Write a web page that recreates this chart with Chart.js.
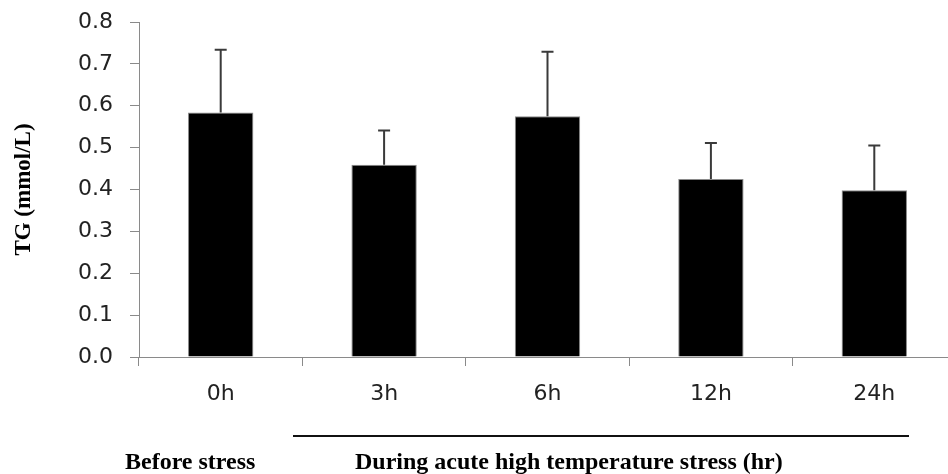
<!DOCTYPE html>
<html>
<head>
<meta charset="utf-8">
<script src="https://cdn.jsdelivr.net/npm/chart.js@4.4.0/dist/chart.umd.min.js"></script>
<style>
  html, body { margin: 0; padding: 0; background: #fff; }
  #wrap { width: 948px; height: 474px; }
</style>
</head>
<body>
<div id="wrap"><canvas id="tgChart" width="948" height="474"></canvas></div>
<script>
// datos
const categorias = ['0h', '3h', '6h', '12h', '24h'];
const medias = [0.584, 0.459, 0.575, 0.425, 0.398];
const errores = [0.150, 0.082, 0.154, 0.086, 0.107];
const ticksY = [0.0, 0.1, 0.2, 0.3, 0.4, 0.5, 0.6, 0.7, 0.8];

// ajustar el area: eje x sale un poco por la derecha, tope del eje y en 22px
const ajustarArea = {
    id: 'ajustarArea',
    afterLayout(chart) {
        const x = chart.scales.x;
        x.right = 956;
        x.width = x.right - x.left;
        x.configure();
        const y = chart.scales.y;
        y.top = 22;
        y.height = y.bottom - y.top;
        y.configure();
        chart.chartArea.top = 22;
        chart.chartArea.height = chart.chartArea.bottom - 22;
    }
};

// barras de error (solo hacia arriba, con tope)
const errorBars = {
    id: 'errorBars',
    afterDatasetsDraw(chart) {
        const ctx = chart.ctx;
        const meta = chart.getDatasetMeta(0);
        const y = chart.scales.y;
        ctx.save();
        ctx.strokeStyle = '#3a3a3a';
        ctx.lineWidth = 2;
        meta.data.forEach((bar, i) => {
            const top = y.getPixelForValue(medias[i] + errores[i]);
            ctx.beginPath();
            ctx.moveTo(bar.x, bar.y);
            ctx.lineTo(bar.x, top);
            ctx.moveTo(bar.x - 6, top);
            ctx.lineTo(bar.x + 6, top);
            ctx.stroke();
        });
        ctx.restore();
    }
};

// textos de abajo y la linea
const bottomNotes = {
    id: 'bottomNotes',
    afterDraw(chart) {
        const ctx = chart.ctx;
        ctx.save();
        ctx.strokeStyle = '#111';
        ctx.lineWidth = 2;
        ctx.beginPath();
        ctx.moveTo(293, 436);
        ctx.lineTo(909, 436);
        ctx.stroke();
        ctx.fillStyle = '#000';
        ctx.font = 'bold 24px "Liberation Serif"';
        ctx.textBaseline = 'alphabetic';
        ctx.textAlign = 'left';
        ctx.fillText('Before stress', 125, 469);
        ctx.fillText('During acute high temperature stress (hr)', 355, 469);
        ctx.restore();
    }
};

const data = {
    labels: categorias,
    datasets: [{
        label: 'TG',
        data: medias,
        backgroundColor: '#000',
        borderColor: '#8a8a8a',
        borderWidth: 1,
        barPercentage: 0.8,
        categoryPercentage: 0.5
    }]
};

const config = {
    type: 'bar',
    data: data,
    options: {
        responsive: false,
        animation: false,
        layout: { padding: { top: 16, left: 0, right: 0, bottom: 0 } },
        plugins: {
            legend: { display: false },
            tooltip: { enabled: false }
        },
        scales: {
            x: {
                afterFit: s => { s.height = 117; },
                grid: {
                    drawOnChartArea: false,
                    drawTicks: true,
                    tickLength: 9,
                    tickColor: '#8a8a8a'
                },
                border: { color: '#8a8a8a', width: 1 },
                ticks: {
                    color: '#222',
                    font: { family: 'DejaVu Sans', size: 22 },
                    padding: 15
                }
            },
            y: {
                min: 0,
                max: 0.8,
                afterFit: s => { s.width = 139; },
                afterBuildTicks: s => { s.ticks = ticksY.map(v => ({ value: v })); },
                grid: {
                    drawOnChartArea: false,
                    drawTicks: true,
                    tickLength: 9,
                    tickColor: '#8a8a8a'
                },
                border: { color: '#8a8a8a', width: 1 },
                ticks: {
                    color: '#222',
                    font: { family: 'DejaVu Sans', size: 22 },
                    padding: 17,
                    callback: v => Number(v).toFixed(1)
                },
                title: {
                    display: true,
                    text: 'TG (mmol/L)',
                    color: '#000',
                    font: { family: 'Liberation Serif', size: 23, weight: 'bold' },
                    padding: { top: 10, bottom: 0 }
                }
            }
        }
    },
    plugins: [ajustarArea, errorBars, bottomNotes]
};

const tgChart = document.getElementById('tgChart');
tgChart.chart = new Chart(tgChart, config);
</script>
</body>
</html>
